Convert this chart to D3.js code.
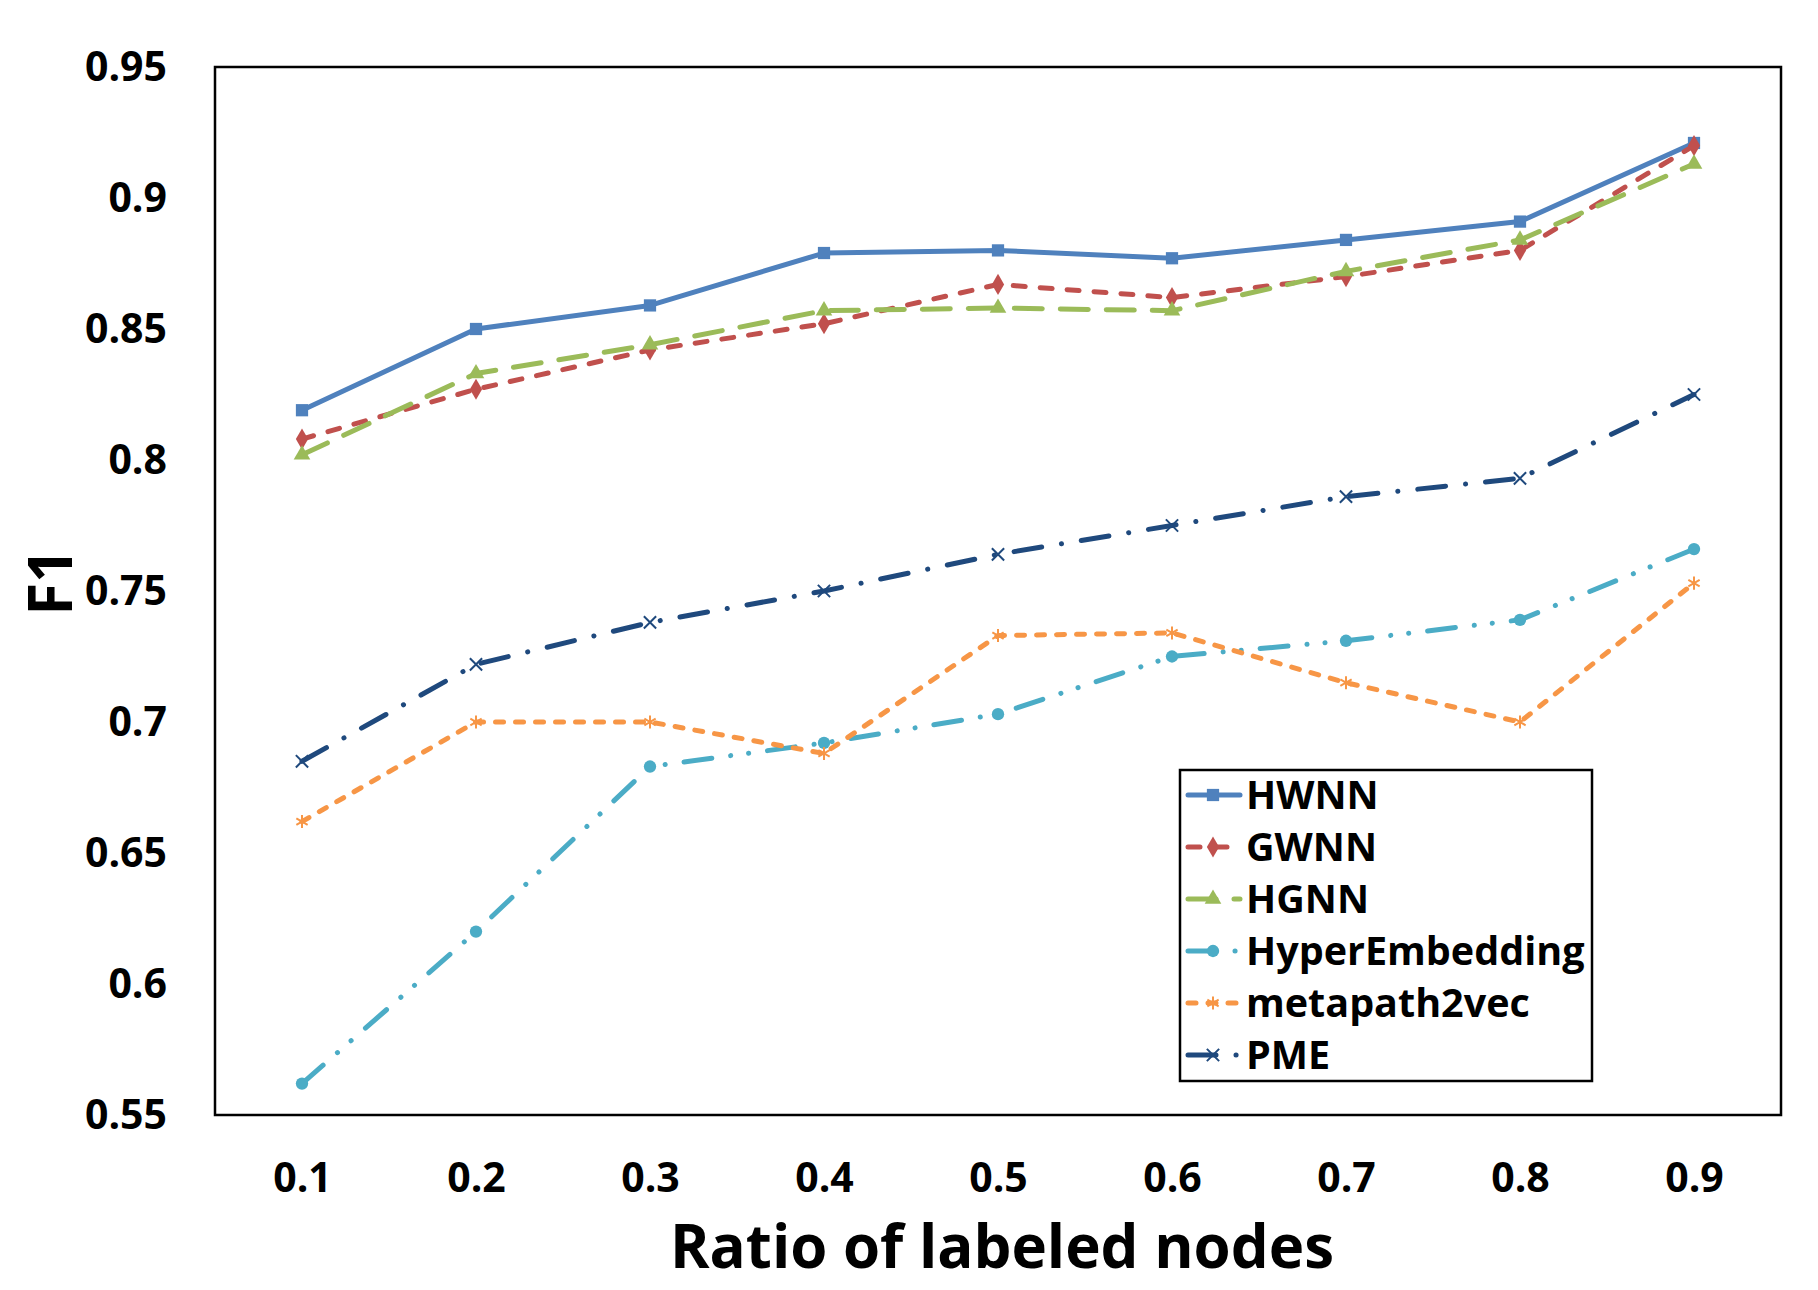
<!DOCTYPE html>
<html lang="en">
    <head>
        <meta charset="utf-8">
        <title>F1 vs ratio of labeled nodes</title>
        <script type="text/javascript" src="https://cdn.jsdelivr.net/npm/d3@7/dist/d3.min.js"></script>
        <style type="text/css">
            body { margin: 0; background: white; }
            text { font-family: "Open Sans", "Noto Sans", sans-serif; font-weight: bold; fill: black; }
        </style>
    </head>
    <body>
        <script type="text/javascript">

            //categories on the x axis
            var ratios = ["0.1", "0.2", "0.3", "0.4", "0.5", "0.6", "0.7", "0.8", "0.9"];

            //F1 values
            var hwnn = [0.819, 0.850, 0.859, 0.879, 0.880, 0.877, 0.884, 0.891, 0.921];
            var gwnn = [0.808, 0.827, 0.842, 0.852, 0.867, 0.862, 0.870, 0.880, 0.920];
            var hgnn = [0.802, 0.833, 0.844, 0.857, 0.858, 0.857, 0.872, 0.884, 0.913];
            var hyperEmbedding = [0.562, 0.620, 0.683, 0.692, 0.703, 0.725, 0.731, 0.739, 0.766];
            var metapath2vec = [0.662, 0.700, 0.700, 0.688, 0.733, 0.734, 0.715, 0.700, 0.753];
            var pme = [0.685, 0.722, 0.738, 0.750, 0.764, 0.775, 0.786, 0.793, 0.825];

            var yTicks = [0.55, 0.6, 0.65, 0.7, 0.75, 0.8, 0.85, 0.9, 0.95];

            //series styles: colour, dash, marker
            var series = [
              {name: "HWNN", values: hwnn, color: "#4F81BD", dash: null, symbol: d3.symbolSquare, size: 150, stroke: false},
              {name: "GWNN", values: gwnn, color: "#C0504D", dash: "12,15", symbol: d3.symbolDiamond, size: 130, stroke: false},
              {name: "HGNN", values: hgnn, color: "#9BBB59", dash: "28,18", symbol: d3.symbolTriangle, size: 120, stroke: false},
              {name: "HyperEmbedding", values: hyperEmbedding, color: "#4BACC6", dash: "28,19,0.1,18,0.1,19", symbol: d3.symbolCircle, size: 120, stroke: false},
              {name: "metapath2vec", values: metapath2vec, color: "#F79646", dash: "8,12", symbol: d3.symbolAsterisk, size: 120, stroke: true},
              {name: "PME", values: pme, color: "#1F497D", dash: "28,20,0.1,20", symbol: d3.symbolTimes, size: 100, stroke: true}
            ];

            var w = 1818;
            var h = 1290;
            var plotLeft = 215, plotRight = 1781, plotTop = 67, plotBottom = 1115;

            var svg = d3.select("body")
                  .append("svg")
                  .attr("width", w)
                  .attr("height", h);

            svg.append("rect")
              .attr("width", w)
              .attr("height", h)
              .attr("fill", "white");

            var xScale = d3.scalePoint()
                .domain(ratios)
                .range([plotLeft, plotRight])
                .padding(0.5);

            var yScale = d3.scaleLinear()
                .domain([0.55, 0.95])
                .range([plotBottom, plotTop]);

            //axes, labels only
            var yAxis = svg.append("g")
              .attr("transform", "translate(" + plotLeft + ",0)")
              .call(d3.axisLeft(yScale)
                .tickValues(yTicks)
                .tickSize(0)
                .tickPadding(48)
                .tickFormat(function(d) { return String(+d.toFixed(2)); }));
            yAxis.select(".domain").remove();
            yAxis.selectAll("text")
              .attr("font-size", "41px")
              .style("font-family", "'Open Sans', sans-serif")
              .style("font-weight", "bold");

            var xAxis = svg.append("g")
              .attr("transform", "translate(0," + plotBottom + ")")
              .call(d3.axisBottom(xScale)
                .tickSize(0)
                .tickPadding(48));
            xAxis.select(".domain").remove();
            xAxis.selectAll("text")
              .attr("font-size", "41px")
              .style("font-family", "'Open Sans', sans-serif")
              .style("font-weight", "bold");

            //plot frame
            svg.append("rect")
              .attr("x", plotLeft)
              .attr("y", plotTop)
              .attr("width", plotRight - plotLeft)
              .attr("height", plotBottom - plotTop)
              .attr("fill", "none")
              .attr("stroke", "black")
              .attr("stroke-width", 2.5);

            //axis titles
            svg.append("text")
              .attr("x", 1002)
              .attr("y", 1268)
              .attr("text-anchor", "middle")
              .attr("font-size", "60px")
              .text("Ratio of labeled nodes");

            svg.append("text")
              .attr("transform", "translate(72,582) rotate(-90)")
              .attr("text-anchor", "middle")
              .attr("font-size", "60px")
              .text("F1");

            var line = d3.line()
              .x(function(d, i) { return xScale(ratios[i]); })
              .y(function(d) { return yScale(d); });

            function drawMarker(sel, s) {
              sel.attr("d", d3.symbol().type(s.symbol).size(s.size))
                .attr("fill", s.stroke ? "none" : s.color)
                .attr("stroke", s.color)
                .attr("stroke-width", s.stroke ? 2 : 0);
            }

            //lines and markers
            series.forEach(function(s) {
              var g = svg.append("g");
              g.append("path")
                .datum(s.values)
                .attr("d", line)
                .attr("fill", "none")
                .attr("stroke", s.color)
                .attr("stroke-width", 5)
                .attr("stroke-linecap", s.dash ? "round" : "butt")
                .attr("stroke-linejoin", "round")
                .attr("stroke-dasharray", s.dash);

              g.selectAll("path.marker")
                .data(s.values)
                .enter()
                .append("path")
                .attr("class", "marker")
                .attr("transform", function(d, i) {
                  return "translate(" + xScale(ratios[i]) + "," + yScale(d) + ")";
                })
                .call(drawMarker, s);
            });

            //legend
            var legend = svg.append("g");
            legend.append("rect")
              .attr("x", 1180)
              .attr("y", 770)
              .attr("width", 412)
              .attr("height", 311)
              .attr("fill", "white")
              .attr("stroke", "black")
              .attr("stroke-width", 2.5);

            var rows = legend.selectAll("g.row")
              .data(series)
              .enter()
              .append("g")
              .attr("class", "row")
              .attr("transform", function(d, i) {
                return "translate(0," + (795 + i * 52) + ")";
              });

            rows.append("line")
              .attr("x1", 1188)
              .attr("x2", 1240)
              .attr("stroke", function(d) { return d.color; })
              .attr("stroke-width", 5)
              .attr("stroke-linecap", "round")
              .attr("stroke-dasharray", function(d) { return d.dash; });

            rows.append("path")
              .attr("transform", "translate(1213,0)")
              .each(function(d) { d3.select(this).call(drawMarker, d); });

            rows.append("text")
              .attr("x", 1246)
              .attr("dy", "0.36em")
              .attr("font-size", "39.5px")
              .text(function(d) { return d.name; });

        </script>
    </body>
</html>
